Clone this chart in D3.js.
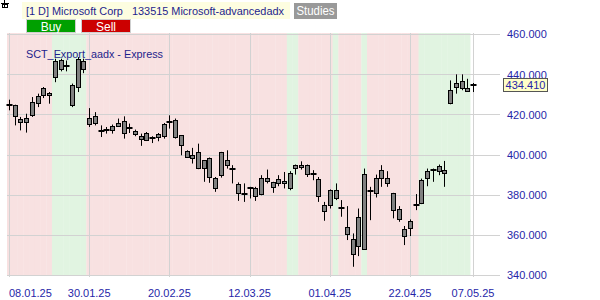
<!DOCTYPE html>
<html><head><meta charset="utf-8">
<script src="https://cdn.jsdelivr.net/npm/d3@7"></script>
<style>html,body{margin:0;padding:0;background:#fff;}svg{display:block;font-family:"Liberation Sans",Arial,sans-serif;}</style>
</head><body>
<svg id="c" width="600" height="300"></svg>
<script>
const dates = ["08.01.25","10.01.25","13.01.25","14.01.25","15.01.25","16.01.25","17.01.25","21.01.25","22.01.25","23.01.25","24.01.25","27.01.25","28.01.25","29.01.25","30.01.25","31.01.25",
"03.02.25","04.02.25","05.02.25","06.02.25","07.02.25","10.02.25","11.02.25","12.02.25","13.02.25","14.02.25","18.02.25","19.02.25","20.02.25","21.02.25","24.02.25","25.02.25","26.02.25","27.02.25","28.02.25",
"03.03.25","04.03.25","05.03.25","06.03.25","07.03.25","10.03.25","11.03.25","12.03.25","13.03.25","14.03.25","17.03.25","18.03.25","19.03.25","20.03.25","21.03.25","24.03.25","25.03.25","26.03.25","27.03.25","28.03.25","31.03.25",
"01.04.25","02.04.25","03.04.25","04.04.25","07.04.25","08.04.25","09.04.25","10.04.25","11.04.25","14.04.25","15.04.25","16.04.25","17.04.25","21.04.25","22.04.25","23.04.25","24.04.25","25.04.25","28.04.25","29.04.25","30.04.25",
"01.05.25","02.05.25","05.05.25","06.05.25","07.05.25"];
const open  = [424.5,424.8,415.9,418.2,419.5,428.9,429.8,430.6,438.9,442.7,444,424.8,433.6,446.8,418.4,419,
411.6,412.4,412,414.5,416.5,413.2,411.6,409.1,407.4,408.2,408.4,409.1,416,417.4,409.6,401.6,398,401,393,
398.5,383.6,389.7,397.1,392.8,385.2,380.1,383.1,383.1,380.6,386.9,386.4,385.6,386.6,383.4,393.3,393.8,395,390.5,387.6,372,
374.8,378.1,373.6,363.7,350.3,368.7,353.3,381.9,381.1,392.2,388.5,380.6,373.1,362.7,363.2,374.8,375.9,388,392.2,391.7,392.2,
425.3,433.6,432.8,433.3,434.41];
const high  = [427.3,424.8,418.7,420.3,428.6,430.3,433.6,431.1,447.7,447.7,446.8,435.3,448.5,447.7,423.1,421.1,
414.5,413.7,414.9,417.9,419,415.4,412.4,410.4,411.2,409.1,410.7,415.7,419.5,417.9,409.6,402.1,403.3,405.4,397.1,
398.5,388.8,401.3,402.1,394.7,386.1,385.6,383.9,383.9,389.7,392.5,386.4,389.7,391.3,391.7,395,396.6,395,392.2,388.8,376.4,
382.6,385.6,377.3,374.3,360.7,373.1,393,383.9,390,394.7,391.7,380.9,374.3,364.4,367.7,380.3,388,393,393,395,396.8,
436.9,439.9,439.9,437.7,435.6];
const low   = [422,414.5,412,410.9,418.7,423.6,428.1,425.3,436,441.4,441.4,423.6,431.1,440.5,413.7,414.5,
408.7,410.4,410.4,413.7,407.9,410.7,409.1,404.3,406.7,405.7,406.6,407.9,412.9,407.9,399.6,398.3,395.5,392.7,386.4,
385.9,381.4,388.5,393,385.6,376.9,376.4,378.1,376.9,379.7,385.6,380.9,384.2,383.1,382.2,390,392.5,388.8,387.2,376.4,367,
373.1,377.3,369,357.4,344.1,349.4,352.8,367.3,378.6,383.9,383.9,368.2,366.5,354.9,359.4,372.3,375.3,384.2,386.4,389.7,383.9,
425,430.3,432,431.6,431.1];
const close = [424.5,419.2,417.5,416.2,426.1,425.3,433.1,429.4,446.8,447.2,444,434.8,447.7,443,415.4,415.4,
411.6,412.4,414,415.9,410.4,413.2,409.9,407.4,410.7,408.2,410,415,416,409.1,404.6,398.8,399.6,393,397.1,
388.8,388.5,401,394.5,392.8,380.6,380.1,383.1,378.9,388.5,388.5,383.9,387.6,385.6,391,395,395,390.5,390.5,378.9,375.1,
382.2,382.2,373.6,360.2,357.7,354.4,390.5,381.9,388.5,388,386.1,372,368.2,359.4,366.8,374.8,387.2,391.7,392.2,394.2,390.5,
431.9,435.6,436.4,431.9,434.41];
// 1 = buy (green), 0 = sell (red), null = no signal
const signal = [0,0,0,0,0,0,0,0,1,1,1,1,1,1,0,0,
0,0,0,0,0,0,0,0,0,0,0,0,0,0,0,0,0,0,0,
0,0,0,0,0,0,0,0,0,0,0,0,0,0,1,1,0,0,0,0,0,
0,1,0,0,0,0,1,0,0,0,0,0,0,0,0,0,1,1,1,1,1,
1,1,1,1,null];
const yTicks = [340,360,380,400,420,440,460];
const xTickLabels = ["08.01.25","30.01.25","20.02.25","12.03.25","01.04.25","22.04.25","07.05.25"];
const lastPrice = 434.41;

const svg = d3.select("#c");
const x = d3.scalePoint().domain(dates).range([9,473]);
const y = d3.scaleLinear().domain([340,460]).range([275,34]);
const step = x.step();
const plotL = 7, plotR = 473, plotT = 33, plotB = 275;

// header
svg.append("g").attr("stroke","#000").attr("stroke-width",1)
  .call(g=>{g.append("line").attr("x1",1).attr("x2",9).attr("y1",3.5).attr("y2",3.5);
            g.append("line").attr("x1",4.5).attr("x2",4.5).attr("y1",0).attr("y2",7);
            g.append("rect").attr("x",2.5).attr("y",4.5).attr("width",5).attr("height",3).attr("fill","none");});
svg.append("rect").attr("x",22).attr("y",2).attr("width",268).attr("height",17).attr("fill","#fdfde0");
svg.append("text").attr("x",26).attr("y",15).attr("font-size",10).attr("fill","#1e1e8c")
  .attr("xml:space","preserve").attr("textLength",258).attr("lengthAdjust","spacingAndGlyphs")
  .text("[1 D] Microsoft Corp   133515 Microsoft-advancedadx");
svg.append("rect").attr("x",294).attr("y",3).attr("width",43).attr("height",16).attr("fill","#999999");
svg.append("text").attr("x",315.5).attr("y",15).attr("text-anchor","middle").attr("font-size",12).attr("fill","#fff")
  .attr("textLength",38).attr("lengthAdjust","spacingAndGlyphs").text("Studies");
svg.append("rect").attr("x",26.5).attr("y",19.5).attr("width",49).attr("height",13).attr("fill","#00a000").attr("stroke","#cfcfcf");
svg.append("text").attr("x",51).attr("y",30.5).attr("text-anchor","middle").attr("font-size",12).attr("fill","#fff").text("Buy");
svg.append("rect").attr("x",81.5).attr("y",19.5).attr("width",49).attr("height",13).attr("fill","#cc0000").attr("stroke","#cfcfcf");
svg.append("text").attr("x",106).attr("y",30.5).attr("text-anchor","middle").attr("font-size",12).attr("fill","#fff").text("Sell");

// signal shading
svg.append("g").selectAll("rect").data(dates.map((d,i)=>({d,s:signal[i]})).filter(o=>o.s!==null))
  .join("rect")
  .attr("x",o=>Math.max(plotL, x(o.d)-step/2)).attr("y",plotT)
  .attr("width",o=>x(o.d)+step/2-Math.max(plotL, x(o.d)-step/2)+0.3).attr("height",plotB-plotT)
  .attr("fill",o=>o.s===1?"#e1f4e1":"#f8e1e1");

// gridlines
svg.append("g").selectAll("line").data(yTicks).join("line")
  .attr("x1",plotL).attr("x2",500).attr("y1",d=>Math.round(y(d))+0.5).attr("y2",d=>Math.round(y(d))+0.5)
  .attr("stroke","#d2d2d2");
svg.append("g").selectAll("line").data(xTickLabels).join("line")
  .attr("x1",d=>Math.round(x(d))+0.5).attr("x2",d=>Math.round(x(d))+0.5).attr("y1",plotT).attr("y2",plotB+2)
  .attr("stroke","#d2d2d2");

// y axis labels
const yAxis = d3.axisRight(y).tickValues(yTicks).tickFormat(d3.format(".3f")).tickSize(0).tickPadding(0);
svg.append("g").attr("transform","translate(507,0)").call(yAxis)
  .call(g=>g.select(".domain").remove())
  .call(g=>g.selectAll("text").attr("font-size",11).attr("font-family","Liberation Sans, Arial").attr("fill","#2626a8").attr("dy","0.35em"));

// x labels
svg.append("g").selectAll("text").data(xTickLabels).join("text")
  .attr("x",(d,i)=>i===0? 9 : x(d)).attr("y",297)
  .attr("text-anchor",(d,i)=>i===0?"start":"middle")
  .attr("font-size",11).attr("fill","#2626a8").text(d=>d);

// study label
svg.append("text").attr("x",26).attr("y",58).attr("font-size",11).attr("fill","#1e1e8c")
  .attr("textLength",137).attr("lengthAdjust","spacingAndGlyphs").text("SCT_Export_aadx - Express");

// candles
const cg = svg.append("g");
dates.forEach((d,i)=>{
  const cx = Math.round(x(d))+0.5;
  cg.append("line").attr("x1",cx).attr("x2",cx).attr("y1",y(high[i])).attr("y2",y(low[i])).attr("stroke","#000");
  const top = y(Math.max(open[i],close[i])), bot = y(Math.min(open[i],close[i]));
  if (bot-top < 1.5) {
    cg.append("rect").attr("x",cx-3).attr("y",Math.round((top+bot)/2)-1).attr("width",6).attr("height",2).attr("fill","#000");
  } else {
    cg.append("rect").attr("x",cx-2).attr("y",Math.round(top)+0.5).attr("width",4).attr("height",Math.max(1,Math.round(bot-top)))
      .attr("fill","#808080").attr("stroke","#000");
  }
});

// last price label
const ly = y(lastPrice);
svg.append("rect").attr("x",503.5).attr("y",Math.round(ly)-6.5).attr("width",44).attr("height",13).attr("fill","#ffffc8").attr("stroke","#555");
svg.append("text").attr("x",525.5).attr("y",ly).attr("dy","0.35em").attr("text-anchor","middle").attr("font-size",11).attr("fill","#2626a8").text(d3.format(".3f")(lastPrice));
</script>
</body></html>
